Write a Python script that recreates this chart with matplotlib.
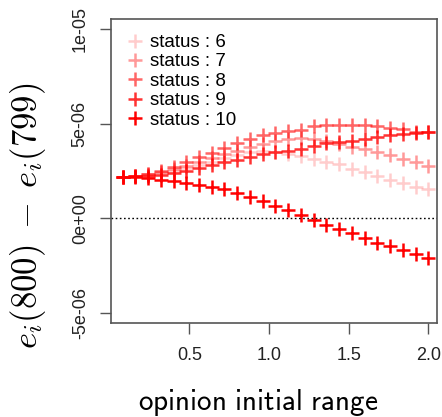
import numpy as np
import matplotlib
matplotlib.use('Agg')
from matplotlib import pyplot as plt

plt.rcParams['font.family'] = ['Liberation Sans', 'DejaVu Sans']
plt.rcParams['mathtext.fontset'] = 'cm'

# opinion initial range
x = [0.08, 0.16, 0.24, 0.32, 0.40, 0.48, 0.56, 0.64, 0.72, 0.80, 0.88, 0.96, 1.04,
     1.12, 1.20, 1.28, 1.36, 1.44, 1.52, 1.60, 1.68, 1.76, 1.84, 1.92, 2.00]

# e_i(800) - e_i(799), in units of 1e-6
s6 = [2.20, 2.22, 2.28, 2.38, 2.50, 2.65, 2.82, 3.00, 3.18, 3.35, 3.48, 3.55, 3.52,
      3.42, 3.30, 3.13, 3.00, 2.85, 2.60, 2.43, 2.22, 2.03, 1.84, 1.68, 1.53]
s7 = [2.20, 2.24, 2.32, 2.45, 2.60, 2.78, 2.98, 3.18, 3.38, 3.58, 3.78, 3.95, 4.10,
      4.18, 4.22, 4.18, 4.08, 3.92, 3.78, 3.65, 3.49, 3.35, 3.13, 2.95, 2.78]
s8 = [2.20, 2.25, 2.35, 2.52, 2.72, 2.95, 3.22, 3.45, 3.70, 3.96, 4.20, 4.39, 4.51,
      4.61, 4.69, 4.86, 4.91, 4.91, 4.91, 4.91, 4.86, 4.79, 4.72, 4.58, 4.56]
s9 = [2.20, 2.22, 2.26, 2.31, 2.40, 2.50, 2.66, 2.80, 2.95, 3.09, 3.22, 3.40, 3.49,
      3.57, 3.65, 3.80, 3.97, 4.01, 4.06, 4.17, 4.27, 4.39, 4.48, 4.52, 4.56]
s10 = [2.20, 2.17, 2.12, 2.03, 1.95, 1.87, 1.78, 1.67, 1.54, 1.36, 1.13, 0.89, 0.66,
       0.45, 0.19, -0.09, -0.33, -0.56, -0.78, -1.04, -1.29, -1.48, -1.69, -1.91, -2.08]

status = [6, 7, 8, 9, 10]
series = [s6, s7, s8, s9, s10]
alphas = [0.2, 0.4, 0.6, 0.8, 1.0]

yticks = [-5e-06, 0, 5e-06, 1e-05]
ytick_labels = ['-5e-06', '0e+00', '5e-06', '1e-05']
xticks = [0.5, 1.0, 1.5, 2.0]
xtick_labels = ['0.5', '1.0', '1.5', '2.0']

fig = plt.figure(figsize=(4.42, 4.17), dpi=100)
ax = fig.add_axes([111 / 442, 1 - 323 / 417, 326 / 442, 304 / 417])

for st, s, a in zip(status, series, alphas):
    ax.plot(x, np.array(s) * 1e-6, linestyle='none', marker='+', ms=9.5, mew=1.8,
            color=(1, 0, 0, a), label='status : %d' % st)

ax.axhline(0, color='black', lw=1, linestyle=(0, (1.2, 1.8)))

ax.set_xlim(0.0075, 2.054)
ax.set_ylim(-5.53e-06, 10.53e-06)
ax.set_xticks(xticks)
ax.set_xticklabels(xtick_labels)
ax.set_yticks(yticks)
ax.set_yticklabels(ytick_labels, rotation=90, va='center')

for sp in ax.spines.values():
    sp.set_color('#555555')
    sp.set_linewidth(1.2)
ax.tick_params(axis='both', direction='out', length=8, width=1, color='#555555',
               labelsize=13, labelcolor='#222222')
ax.tick_params(axis='x', pad=9)
ax.tick_params(axis='y', pad=8)

ax.set_xlabel(r'$\mathsf{opinion\ initial\ range}$', fontsize=21)
ax.xaxis.set_label_coords((258 - 111) / 326, -(403 - 323) / 304)
ax.xaxis.label.set_va('center')
ax.set_ylabel(r'$e_i(\mathsf{800})\;-\;e_i(\mathsf{799})$', fontsize=25)
ax.yaxis.set_label_coords(-(111 - 28) / 326, (323 - 216) / 304)
ax.yaxis.label.set_va('center')

ax.legend(loc='upper left', frameon=False, fontsize=13.5, handlelength=1.0,
          handletextpad=0.3, labelspacing=0.12, borderaxespad=0.5,
          borderpad=0.3)

plt.savefig('out.png', dpi=100)
